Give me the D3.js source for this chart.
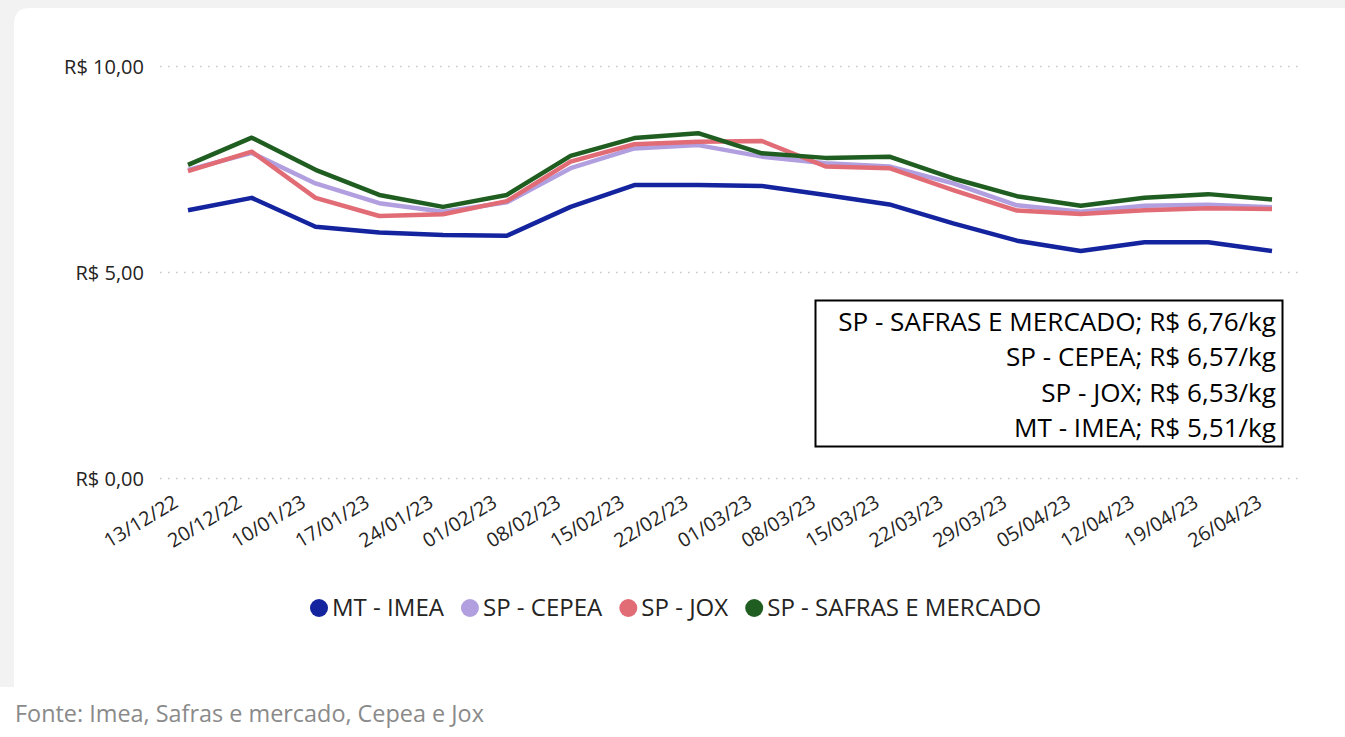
<!DOCTYPE html>
<html>
<head>
<meta charset="utf-8">
<script src="https://cdn.jsdelivr.net/npm/d3@7"></script>
<style>
  body { margin: 0; background: #fff; }
  text { font-family: "Open Sans", sans-serif; }
</style>
</head>
<body>
<div class="chart"></div>
<script>
const dates = ["13/12/22","20/12/22","10/01/23","17/01/23","24/01/23","01/02/23","08/02/23","15/02/23","22/02/23","01/03/23","08/03/23","15/03/23","22/03/23","29/03/23","05/04/23","12/04/23","19/04/23","26/04/23"];
const seriesNames = ["MT - IMEA", "SP - CEPEA", "SP - JOX", "SP - SAFRAS E MERCADO"];
const mtImea   = [6.50, 6.80, 6.10, 5.96, 5.90, 5.88, 6.58, 7.11, 7.11, 7.09, 6.87, 6.64, 6.18, 5.76, 5.51, 5.72, 5.72, 5.51];
const spCepea  = [7.48, 7.89, 7.15, 6.67, 6.46, 6.69, 7.52, 8.00, 8.08, 7.80, 7.64, 7.56, 7.15, 6.62, 6.46, 6.61, 6.63, 6.57];
const spJox    = [7.45, 7.92, 6.80, 6.36, 6.40, 6.72, 7.68, 8.10, 8.16, 8.18, 7.56, 7.52, 6.99, 6.49, 6.41, 6.50, 6.55, 6.53];
const spSafras = [7.60, 8.26, 7.48, 6.87, 6.58, 6.87, 7.82, 8.25, 8.37, 7.88, 7.77, 7.80, 7.27, 6.84, 6.61, 6.80, 6.89, 6.76];
const yTicks = [0, 5, 10];
const boxLines = ["SP - SAFRAS E MERCADO; R$ 6,76/kg", "SP - CEPEA; R$ 6,57/kg", "SP - JOX; R$ 6,53/kg", "MT - IMEA; R$ 5,51/kg"];
const source = "Fonte: Imea, Safras e mercado, Cepea e Jox";

const colors = ["#14239e", "#b19fdf", "#e26c76", "#1f5e20"];
const values = [mtImea, spCepea, spJox, spSafras];

const width = 1345, height = 737;
const plot = {left: 160, right: 1298, top: 66, bottom: 478};

const svg = d3.select(".chart").append("svg")
    .attr("width", width)
    .attr("height", height);

// page + card
svg.append("rect").attr("width", width).attr("height", 687).attr("fill", "#f2f2f2");
svg.append("path")
    .attr("d", "M14,687 L14,24 Q14,8 30,8 L" + (width + 10) + ",8 L" + (width + 10) + ",687 Z")
    .attr("fill", "#fff");

// font size so the text fills a given width
function fit(sel, size, w){
  sel.style("font-size", size + "px");
  const len = sel.node().getComputedTextLength();
  const s = size * w / len;
  sel.style("font-size", s.toFixed(2) + "px");
  return s;
}

const x = d3.scalePoint()
    .domain(dates)
    .range([188, 1272]);

const y = d3.scaleLinear()
    .domain([0, 10])
    .range([plot.bottom, plot.top]);

const yAxis = svg.append("g")
    .attr("transform", "translate(" + plot.left + ",0)")
    .call(d3.axisLeft(y)
      .tickValues(yTicks)
      .tickSize(-(plot.right - plot.left))
      .tickPadding(16)
      .tickFormat(d => "R$ " + d3.format(".2f")(d).replace(".", ",")));
yAxis.select(".domain").remove();
yAxis.selectAll(".tick line")
    .attr("stroke", "#c8c8c8")
    .attr("stroke-width", 1.5)
    .attr("stroke-dasharray", "1.5,6.5");
const yText = yAxis.selectAll(".tick text")
    .attr("fill", "#252423")
    .attr("dy", "0.36em");
const ySize = fit(yText.filter(d => d === 10), 16, 80);
yText.style("font-size", ySize + "px");

const xAxis = svg.append("g")
    .attr("transform", "translate(0," + plot.bottom + ")")
    .call(d3.axisBottom(x).tickSize(0).tickPadding(0));
xAxis.select(".domain").remove();
const xText = xAxis.selectAll(".tick text")
    .attr("fill", "#252423")
    .attr("text-anchor", "end")
    .attr("x", 0)
    .attr("y", 0)
    .attr("dy", 0)
    .attr("transform", "translate(-9,28) rotate(-31)");
const xSize = fit(xText.filter(d => d === dates[0]), 16, 82);
xText.style("font-size", xSize + "px");

const line = d3.line()
    .x((d, i) => x(dates[i]))
    .y(d => y(d));

svg.selectAll("path.series")
    .data(values)
  .enter().append("path")
    .attr("class", "series")
    .attr("d", line)
    .attr("fill", "none")
    .attr("stroke", (d, i) => colors[i])
    .attr("stroke-width", 4.5)
    .attr("stroke-linejoin", "round");

// value box
svg.append("rect")
    .attr("x", 815.5).attr("y", 300.5)
    .attr("width", 467).attr("height", 146)
    .attr("fill", "#fff")
    .attr("stroke", "#000")
    .attr("stroke-width", 2);

const boxText = svg.selectAll("text.box")
    .data(boxLines)
  .enter().append("text")
    .attr("class", "box")
    .attr("x", 1276)
    .attr("y", (d, i) => 331 + i * 35.3)
    .attr("text-anchor", "end")
    .attr("fill", "#000")
    .text(d => d);
const boxSize = fit(boxText.filter((d, i) => i === 0), 26, 438);
boxText.style("font-size", boxSize + "px");

// legend
const legend = svg.append("g");
const probe = legend.append("text").text(seriesNames[0]);
const legSize = fit(probe, 20, 112);
probe.remove();
let cx = 319;
seriesNames.forEach((name, i) => {
  legend.append("circle")
      .attr("cx", cx).attr("cy", 608).attr("r", 9)
      .attr("fill", colors[i]);
  const t = legend.append("text")
      .attr("x", cx + 13).attr("y", 616)
      .attr("fill", "#252423")
      .style("font-size", legSize + "px")
      .text(name);
  cx += 13 + t.node().getComputedTextLength() + 26;
});

// source
const src = svg.append("text")
    .attr("x", 15).attr("y", 722)
    .attr("fill", "#8a8a8a")
    .text(source);
fit(src, 20, 469);
</script>
</body>
</html>
